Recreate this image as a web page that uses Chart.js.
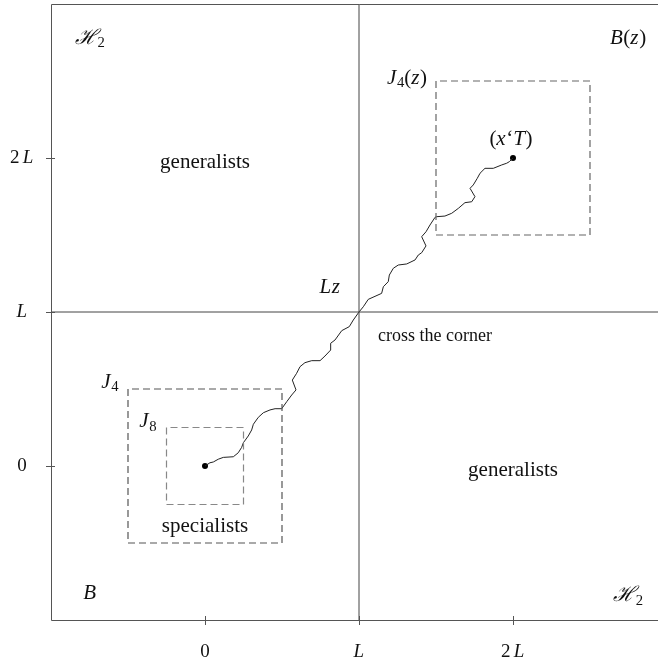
<!DOCTYPE html>
<html>
<head>
<meta charset="utf-8">
<script src="https://cdn.jsdelivr.net/npm/chart.js@4.4.1/dist/chart.umd.min.js"></script>
<style>
  html, body { margin: 0; padding: 0; background: #fff; overflow: hidden; width: 658px; height: 665px; }
  #wrap { position: absolute; left: 0; top: 0; width: 690px; height: 665px; }
</style>
</head>
<body>
<div id="wrap"><canvas id="c" width="690" height="665"></canvas></div>
<script>
// ---------- data ----------
const walkX = [0, 0.032, 0.054, 0.086, 0.119, 0.184, 0.216, 0.238, 0.249, 0.281, 0.303, 0.314, 0.346, 0.379, 0.422, 0.455, 0.498, 0.531, 0.563, 0.591, 0.567, 0.595, 0.617, 0.649, 0.693, 0.747, 0.779, 0.816, 0.816, 0.844, 0.888, 0.937, 0.963, 1.0, 1.028, 1.060, 1.147, 1.158, 1.190, 1.197, 1.223, 1.255, 1.310, 1.364, 1.385, 1.407, 1.435, 1.407, 1.435, 1.461, 1.494, 1.505, 1.558, 1.602, 1.645, 1.688, 1.732, 1.753, 1.721, 1.742, 1.768, 1.786, 1.818, 1.872, 1.927, 1.959, 1.976, 2.0];
const walkY = [0, 0.021, 0.026, 0.044, 0.056, 0.060, 0.086, 0.121, 0.151, 0.195, 0.234, 0.271, 0.316, 0.346, 0.364, 0.372, 0.372, 0.418, 0.461, 0.494, 0.558, 0.602, 0.645, 0.671, 0.684, 0.684, 0.714, 0.753, 0.797, 0.818, 0.879, 0.905, 0.948, 1.0, 1.034, 1.082, 1.121, 1.164, 1.197, 1.240, 1.284, 1.305, 1.312, 1.338, 1.370, 1.385, 1.429, 1.489, 1.521, 1.565, 1.615, 1.619, 1.623, 1.641, 1.673, 1.710, 1.716, 1.749, 1.803, 1.825, 1.868, 1.901, 1.933, 1.933, 1.955, 1.966, 1.976, 2.0];

const endX = [0, 2];
const endY = [0, 2];

const tickValues = [0, 1, 2];
const tickLabels = ['0', 'L', '2 L'];

const boxX0 = [-0.5, -0.25, 1.5];
const boxX1 = [0.5, 0.25, 2.5];
const boxY0 = [-0.5, -0.25, 1.5];
const boxY1 = [0.5, 0.25, 2.5];

const cornerVX = [1, 1];
const cornerVY = [-1, 3];
const cornerHX = [-1, 3];
const cornerHY = [1, 1];

const labelTexts = ['\u210B_2', 'B(z)', 'generalists', 'J_4(z)', '(x\u2018T)', 'Lz', 'cross the corner', 'J_4', 'J_8', 'specialists', 'generalists', 'B', '\u210B_2'];
const labelX = [-0.747, 2.747, 0.0, 1.312, 1.987, 0.812, 1.494, -0.617, -0.370, 0.0, 2.0, -0.747, 2.747];
const labelY = [2.779, 2.773, 1.974, 2.519, 2.117, 1.156, 0.844, 0.545, 0.286, -0.396, -0.026, -0.831, -0.844];
const labelKind = ['math', 'math', 'text', 'math', 'math', 'math', 'small', 'math', 'math', 'text', 'text', 'math', 'math'];

// ---------- helpers ----------
const SERIF = "'Liberation Serif', 'DejaVu Serif', serif";

function tokenize(str, plain) {
  const toks = [];
  for (let i = 0; i < str.length; i++) {
    let ch = str[i];
    if (ch === '_' && i + 1 < str.length) {
      toks.push({ t: str[i + 1], italic: false, sub: true });
      i++;
      continue;
    }
    if (plain) { toks.push({ t: ch, italic: false, sub: false }); continue; }
    if (ch === ' ') { toks.push({ t: ' ', space: true }); continue; }
    const it = /[A-Za-z\u210B]/.test(ch);
    toks.push({ t: ch, italic: it, sub: false });
  }
  return toks;
}

function drawMath(ctx, str, cx, cy, size, plain, align) {
  const toks = tokenize(str, plain);
  const fontFor = (tk) => {
    const s = tk.sub ? size * 0.7 : size;
    return (tk.italic ? 'italic ' : '') + s + 'px ' + SERIF;
  };
  let total = 0;
  const widths = toks.map(tk => {
    if (tk.space) return size * 0.17;
    ctx.font = fontFor(tk);
    let w = ctx.measureText(tk.t).width;
    if (tk.italic) w += size * 0.03;
    return w;
  });
  widths.forEach(w => total += w);
  let x = align === 'right' ? cx - total : (align === 'left' ? cx : cx - total / 2);
  ctx.textBaseline = 'middle';
  ctx.textAlign = 'left';
  toks.forEach((tk, i) => {
    if (!tk.space) {
      ctx.font = fontFor(tk);
      ctx.fillText(tk.t, x, cy + (tk.sub ? size * 0.25 : 0));
    }
    x += widths[i];
  });
}

// ---------- datasets ----------
const pts = (xs, ys) => xs.map((x, i) => ({ x: x, y: ys[i] }));
const boxPts = (i) => pts([boxX0[i], boxX1[i], boxX1[i], boxX0[i], boxX0[i]], [boxY0[i], boxY0[i], boxY1[i], boxY1[i], boxY0[i]]);

const datasets = [
  { data: pts(cornerVX, cornerVY), showLine: true, borderColor: '#444', borderWidth: 1, pointRadius: 0 },
  { data: pts(cornerHX, cornerHY), showLine: true, borderColor: '#444', borderWidth: 1, pointRadius: 0 },
  { data: boxPts(0), showLine: true, borderColor: '#555', borderWidth: 1.2, borderDash: [7, 4], pointRadius: 0 },
  { data: boxPts(1), showLine: true, borderColor: '#888', borderWidth: 1.2, borderDash: [7, 4], pointRadius: 0 },
  { data: boxPts(2), showLine: true, borderColor: '#666', borderWidth: 1.2, borderDash: [7, 4], pointRadius: 0 },
  { data: pts(walkX, walkY), showLine: true, borderColor: '#222', borderWidth: 1, pointRadius: 0, tension: 0 },
  { data: pts(endX, endY), showLine: false, pointRadius: 3, pointBackgroundColor: '#000', pointBorderColor: '#000', pointBorderWidth: 0 }
];

const decor = {
  id: 'decor',
  afterDraw(chart) {
    const ctx = chart.ctx;
    const xs = chart.scales.x, ys = chart.scales.y;
    const a = chart.chartArea;
    ctx.save();
    // frame
    ctx.strokeStyle = '#555';
    ctx.lineWidth = 1;
    ctx.beginPath();
    ctx.moveTo(a.left + 0.5, a.bottom + 0.5);
    ctx.lineTo(a.left + 0.5, a.top + 0.5);
    ctx.lineTo(a.right + 0.5, a.top + 0.5);
    ctx.lineTo(a.right + 0.5, a.bottom + 0.5);
    ctx.lineTo(a.left + 0.5, a.bottom + 0.5);
    ctx.stroke();
    // ticks
    ctx.strokeStyle = '#555';
    tickValues.forEach((v, i) => {
      const px = Math.round(xs.getPixelForValue(v)) + 0.5;
      ctx.beginPath();
      ctx.moveTo(px, a.bottom - 4);
      ctx.lineTo(px, a.bottom + 5);
      ctx.stroke();
      const py = Math.round(ys.getPixelForValue(v)) + 0.5;
      ctx.beginPath();
      ctx.moveTo(a.left - 5, py);
      ctx.lineTo(a.left + 4, py);
      ctx.stroke();
    });
    // tick labels
    ctx.fillStyle = '#111';
    tickValues.forEach((v, i) => {
      drawMath(ctx, tickLabels[i], xs.getPixelForValue(v), a.bottom + 32, 19, false, 'center');
      drawMath(ctx, tickLabels[i], 22, ys.getPixelForValue(v), 19, false, 'center');
    });
    // annotations
    labelTexts.forEach((t, i) => {
      const k = labelKind[i];
      const size = k === 'small' ? 18 : (k === 'text' ? 21 : 21);
      drawMath(ctx, t, xs.getPixelForValue(labelX[i]), ys.getPixelForValue(labelY[i]), size, k !== 'math', 'center');
    });
    ctx.restore();
  }
};

new Chart(document.getElementById('c'), {
  type: 'scatter',
  data: { datasets: datasets },
  options: {
    responsive: false,
    animation: false,
    devicePixelRatio: 1,
    layout: { padding: { left: 0, top: 4, right: 23, bottom: 0 } },
    plugins: { legend: { display: false }, tooltip: { enabled: false } },
    scales: {
      x: {
        type: 'linear', min: -1, max: 3,
        grid: { display: false, drawTicks: false },
        border: { display: false },
        ticks: { display: false },
        afterFit(s) { s.height = 45; }
      },
      y: {
        type: 'linear', min: -1, max: 3,
        grid: { display: false, drawTicks: false },
        border: { display: false },
        ticks: { display: false },
        afterFit(s) { s.width = 51; }
      }
    }
  },
  plugins: [decor]
});
</script>
</body>
</html>
